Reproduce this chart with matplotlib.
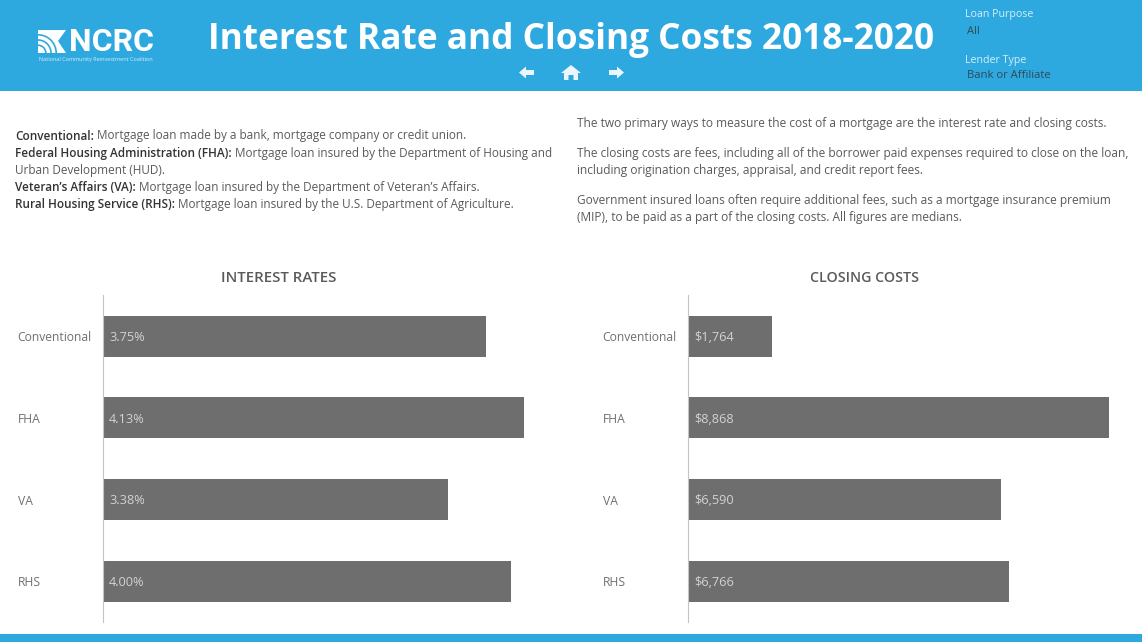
import matplotlib
matplotlib.use("Agg")
import matplotlib.pyplot as plt
from matplotlib.patches import Rectangle, Polygon, Arc

plt.rcParams["font.family"] = ["Open Sans", "Noto Sans", "DejaVu Sans"]

# --------- DATA ----------
categories = ["Conventional", "FHA", "VA", "RHS"]
interest_rates = [3.75, 4.13, 3.38, 4.00]
closing_costs = [1764, 8868, 6590, 6766]

definitions = [
    ("Conventional:", " Mortgage loan made by a bank, mortgage company or credit union."),
    ("Federal Housing Administration (FHA):", " Mortgage loan insured by the Department of Housing and"),
    ("", "Urban Development (HUD)."),
    ("Veteran’s Affairs (VA):", " Mortgage loan insured by the Department of Veteran’s Affairs."),
    ("Rural Housing Service (RHS):", " Mortgage loan insured by the U.S. Department of Agriculture."),
]
notes = [
    "The two primary ways to measure the cost of a mortgage are the interest rate and closing costs.",
    "The closing costs are fees, including all of the borrower paid expenses required to close on the loan,",
    "including origination charges, appraisal, and credit report fees.",
    "Government insured loans often require additional fees, such as a mortgage insurance premium",
    "(MIP), to be paid as a part of the closing costs. All figures are medians.",
]

BLUE = "#2EA9E0"
BAR = "#6E6E6E"
TEXT = "#5A5A5A"
W, H = 1142, 642

fig = plt.figure(figsize=(W / 100, H / 100), dpi=100)

# page layer, in pixels
page = fig.add_axes([0, 0, 1, 1])
page.set_xlim(0, W)
page.set_ylim(H, 0)
page.axis("off")

page.add_patch(Rectangle((0, 0), W, 91, color=BLUE, lw=0))
page.add_patch(Rectangle((0, 634), W, 8, color=BLUE, lw=0))

# --------- HEADER ----------
page.text(571, 40, "Interest Rate and Closing Costs 2018-2020", color="white",
          fontsize=25.4, fontweight="bold", ha="center", va="center")

# logo
page.add_patch(Polygon([(38, 30), (66, 30), (58, 41), (66, 53), (38, 53)], color="white", lw=0))
for d in [12, 20, 28]:
    page.add_patch(Arc((38, 53), d * 1.3, d * 1.3, theta1=270, theta2=360, color=BLUE, lw=1.2))
page.text(111.5, 42, "NCRC", color="white", fontsize=23, fontweight="bold",
          ha="center", va="center", family=["Roboto", "DejaVu Sans"])
page.text(96, 60, "National Community Reinvestment Coalition", color="#D5EEFA",
          fontsize=4, ha="center", va="center")

# nav icons
page.add_patch(Polygon([(519, 72.5), (526, 66.5), (526, 70), (534, 70), (534, 75), (526, 75), (526, 78.5)],
                       color="#EAF6FC", lw=0))
page.add_patch(Polygon([(624, 72.5), (617, 66.5), (617, 70), (609, 70), (609, 75), (617, 75), (617, 78.5)],
                       color="#EAF6FC", lw=0))
page.add_patch(Polygon([(561, 73), (571, 65), (581, 73), (578, 73), (578, 80), (573.5, 80), (573.5, 75),
                        (568.5, 75), (568.5, 80), (564, 80), (564, 73)], color="#EAF6FC", lw=0))

# filters
page.text(965, 15, "Loan Purpose", color="#D5EEFA", fontsize=7.7, va="center")
page.text(967, 31, "All", color="#2F4A58", fontsize=8, va="center")
page.text(965, 60, "Lender Type", color="#D5EEFA", fontsize=7.7, va="center")
page.text(967, 76, "Bank or Affiliate", color="#2F4A58", fontsize=8.1, va="center")

# --------- TEXT BLOCKS ----------
fig.canvas.draw()
renderer = fig.canvas.get_renderer()
y = 136
for bold, normal in definitions:
    x = 15
    if bold:
        t = page.text(x, y, bold, color="#333333", fontsize=8.45, fontweight="semibold", va="center")
        x = page.transData.inverted().transform(t.get_window_extent(renderer).corners()[-1])[0]
    page.text(x, y, normal, color=TEXT, fontsize=8.45, va="center")
    y += 17.2

for line, y in zip(notes, [123.5, 154, 170.5, 200.5, 217.5]):
    page.text(577, y, line, color=TEXT, fontsize=8.6, va="center")

page.text(279, 278, "INTEREST RATES", color=TEXT, fontsize=10.8, fontweight="semibold", ha="center", va="center")
page.text(864, 278, "CLOSING COSTS", color=TEXT, fontsize=10.2, fontweight="semibold", ha="center", va="center")


# --------- BARS ----------
def bar_panel(left, right, xmax, values, labels):
    ax = fig.add_axes([left / W, 1 - 622.2 / H, (right - left) / W, 327 / H])
    ax.patch.set_alpha(0)
    ax.barh(categories, values, height=0.5, color=BAR)
    ax.set_xlim(0, xmax)
    ax.set_ylim(3.5, -0.5)
    for s in ["top", "right", "bottom"]:
        ax.spines[s].set_visible(False)
    ax.spines["left"].set_color("#C4C4C4")
    ax.spines["left"].set_linewidth(0.8)
    ax.set_xticks([])
    ax.tick_params(axis="y", length=0, pad=12, labelsize=8.7, labelcolor="#707070")
    for lab in ax.get_yticklabels():
        lab.set_ha("left")
        lab.set_x(-68.5 / (right - left))
    for i, lab in enumerate(labels):
        ax.annotate(lab, (0, i), xytext=(4.5, -1), textcoords="offset points", color="#D2D2D2",
                    fontsize=9.2, va="center")


bar_panel(102.8, 530, 4.185, interest_rates, [f"{v:.2f}%" for v in interest_rates])
bar_panel(687.8, 1115, 8985, closing_costs, [f"${v:,}" for v in closing_costs])

fig.savefig("out.png", dpi=100)
